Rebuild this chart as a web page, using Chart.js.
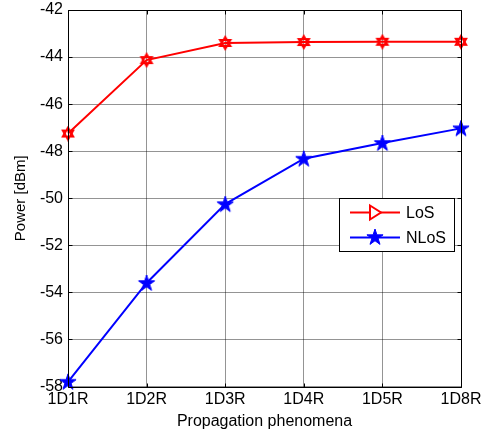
<!DOCTYPE html>
<html>
<head>
<meta charset="utf-8">
<script src="https://cdn.jsdelivr.net/npm/chart.js@4"></script>
<style>
html,body{margin:0;padding:0;background:#fff;}
#wrap{width:491px;height:439px;position:relative;}
</style>
</head>
<body>
<div id="wrap"><canvas id="c" width="491" height="439"></canvas></div>
<script>
const categories = ['1D1R', '1D2R', '1D3R', '1D4R', '1D5R', '1D8R'];
const losPower = [-47.25, -44.13, -43.4, -43.36, -43.35, -43.35];
const nlosPower = [-57.8, -53.6, -50.25, -48.32, -47.65, -47.03];
const seriesNames = ['LoS', 'NLoS'];
const yMin = -58, yMax = -42, yStep = 2;
const xTitle = 'Propagation phenomena';
const yTitle = 'Power [dBm]';

const FONT = '"Liberation Sans", Arial, sans-serif';
const FS = 16;

function makeCanvas(w, h, draw) {
  const c = document.createElement('canvas');
  c.width = w; c.height = h;
  draw(c.getContext('2d'), w, h);
  return c;
}
function pentagramPath(ctx, cx, cy, R) {
  const r = R * 0.382;
  ctx.beginPath();
  for (let i = 0; i < 10; i++) {
    const a = -Math.PI / 2 + i * Math.PI / 5;
    const rr = i % 2 === 0 ? R : r;
    const x = cx + rr * Math.cos(a), y = cy + rr * Math.sin(a);
    if (i === 0) ctx.moveTo(x, y); else ctx.lineTo(x, y);
  }
  ctx.closePath();
}
const starImg = makeCanvas(20, 20, (ctx) => {
  pentagramPath(ctx, 10, 10.5, 8.5);
  ctx.fillStyle = '#0000ff';
  ctx.fill();
  ctx.strokeStyle = '#0000ff';
  ctx.lineWidth = 1;
  ctx.stroke();
});
const hexImg = makeCanvas(16, 16, (ctx) => {
  ctx.strokeStyle = '#ff0000';
  ctx.lineWidth = 2;
  const cx = 8, cy = 8, R = 6;
  for (const off of [-Math.PI / 2, Math.PI / 2]) {
    ctx.beginPath();
    for (let i = 0; i < 3; i++) {
      const a = off + i * 2 * Math.PI / 3;
      const x = cx + R * Math.cos(a), y = cy + R * Math.sin(a);
      if (i === 0) ctx.moveTo(x, y); else ctx.lineTo(x, y);
    }
    ctx.closePath();
    ctx.stroke();
  }
});

const frame = {
  id: 'frame',
  afterDraw(chart) {
    const ctx = chart.ctx;
    const a = chart.chartArea;
    const xs = chart.scales.x, ys = chart.scales.y;
    ctx.save();
    ctx.strokeStyle = '#000';
    ctx.lineWidth = 1;
    const L = Math.round(a.left) + 0.5, R = Math.round(a.right) + 0.5;
    const T = Math.round(a.top) + 0.5, B = Math.round(a.bottom) + 0.5;
    ctx.beginPath();
    ctx.rect(L, T, R - L, B - T);
    ctx.stroke();
    // inward tick marks
    ctx.beginPath();
    ys.ticks.forEach((t, i) => {
      const y = Math.round(ys.getPixelForTick(i)) + 0.5;
      ctx.moveTo(L, y); ctx.lineTo(L + 4, y);
      ctx.moveTo(R, y); ctx.lineTo(R - 4, y);
    });
    xs.ticks.forEach((t, i) => {
      const x = Math.round(xs.getPixelForTick(i)) + 0.5;
      ctx.moveTo(x, B); ctx.lineTo(x, B - 4);
      ctx.moveTo(x, T); ctx.lineTo(x, T + 4);
    });
    ctx.stroke();

    // legend
    const lx = 339.5, ly = 198.5, lw = 115, lh = 53;
    ctx.fillStyle = '#fff';
    ctx.fillRect(lx, ly, lw, lh);
    ctx.strokeStyle = '#000';
    ctx.strokeRect(lx, ly, lw, lh);
    const rows = [
      {y: 212.5, color: '#ff0000', name: seriesNames[0], marker: 'tri'},
      {y: 237.5, color: '#0000ff', name: seriesNames[1], marker: 'star'}
    ];
    rows.forEach(r => {
      ctx.strokeStyle = r.color;
      ctx.lineWidth = 2;
      ctx.beginPath();
      ctx.moveTo(350, r.y); ctx.lineTo(400, r.y);
      ctx.stroke();
      if (r.marker === 'tri') {
        ctx.fillStyle = '#fff';
        ctx.beginPath();
        ctx.moveTo(370, r.y - 7); ctx.lineTo(381, r.y); ctx.lineTo(370, r.y + 7);
        ctx.closePath();
        ctx.fill();
        ctx.stroke();
      } else {
        ctx.drawImage(starImg, 365, r.y - 10.5);
      }
      ctx.fillStyle = '#000';
      ctx.font = FS + 'px ' + FONT;
      ctx.textBaseline = 'middle';
      ctx.textAlign = 'left';
      ctx.fillText(r.name, 406, r.y + 1);
    });
    ctx.restore();
  }
};

new Chart(document.getElementById('c'), {
  type: 'line',
  data: {
    labels: categories,
    datasets: [
      {
        label: seriesNames[0], data: losPower,
        borderColor: '#ff0000', backgroundColor: '#ff0000', borderWidth: 2,
        pointStyle: hexImg, pointRadius: 6, tension: 0, clip: false
      },
      {
        label: seriesNames[1], data: nlosPower,
        borderColor: '#0000ff', backgroundColor: '#0000ff', borderWidth: 2,
        pointStyle: starImg, pointRadius: 8, tension: 0, clip: false
      }
    ]
  },
  options: {
    responsive: false,
    animation: false,
    devicePixelRatio: 1,
    layout: {padding: {top: 6.5, right: 30, left: 0, bottom: 0}},
    plugins: {legend: {display: false}, tooltip: {enabled: false}},
    scales: {
      x: {
        type: 'category',
        offset: false,
        grid: {color: 'rgba(0,0,0,0.42)', lineWidth: 1, drawTicks: false},
        border: {display: false},
        ticks: {color: '#000', font: {family: FONT, size: FS}, padding: 3, maxRotation: 0, autoSkip: false},
        title: {display: true, text: xTitle, color: '#000', font: {family: FONT, size: FS}, padding: {top: 0, bottom: 7.5}},
        afterFit(s) { s.height = 52.5; s.paddingLeft = 0; s.paddingRight = 0; }
      },
      y: {
        min: yMin, max: yMax,
        grid: {color: 'rgba(0,0,0,0.42)', lineWidth: 1, drawTicks: false},
        border: {display: false},
        ticks: {stepSize: yStep, color: '#000', font: {family: FONT, size: FS}, padding: 5},
        title: {display: true, text: yTitle, color: '#000', font: {family: FONT, size: FS - 1}, padding: {top: 12, bottom: 0}},
        afterFit(s) { s.width = 68; s.paddingTop = 0; s.paddingBottom = 0; }
      }
    }
  },
  plugins: [frame]
});
</script>
</body>
</html>
